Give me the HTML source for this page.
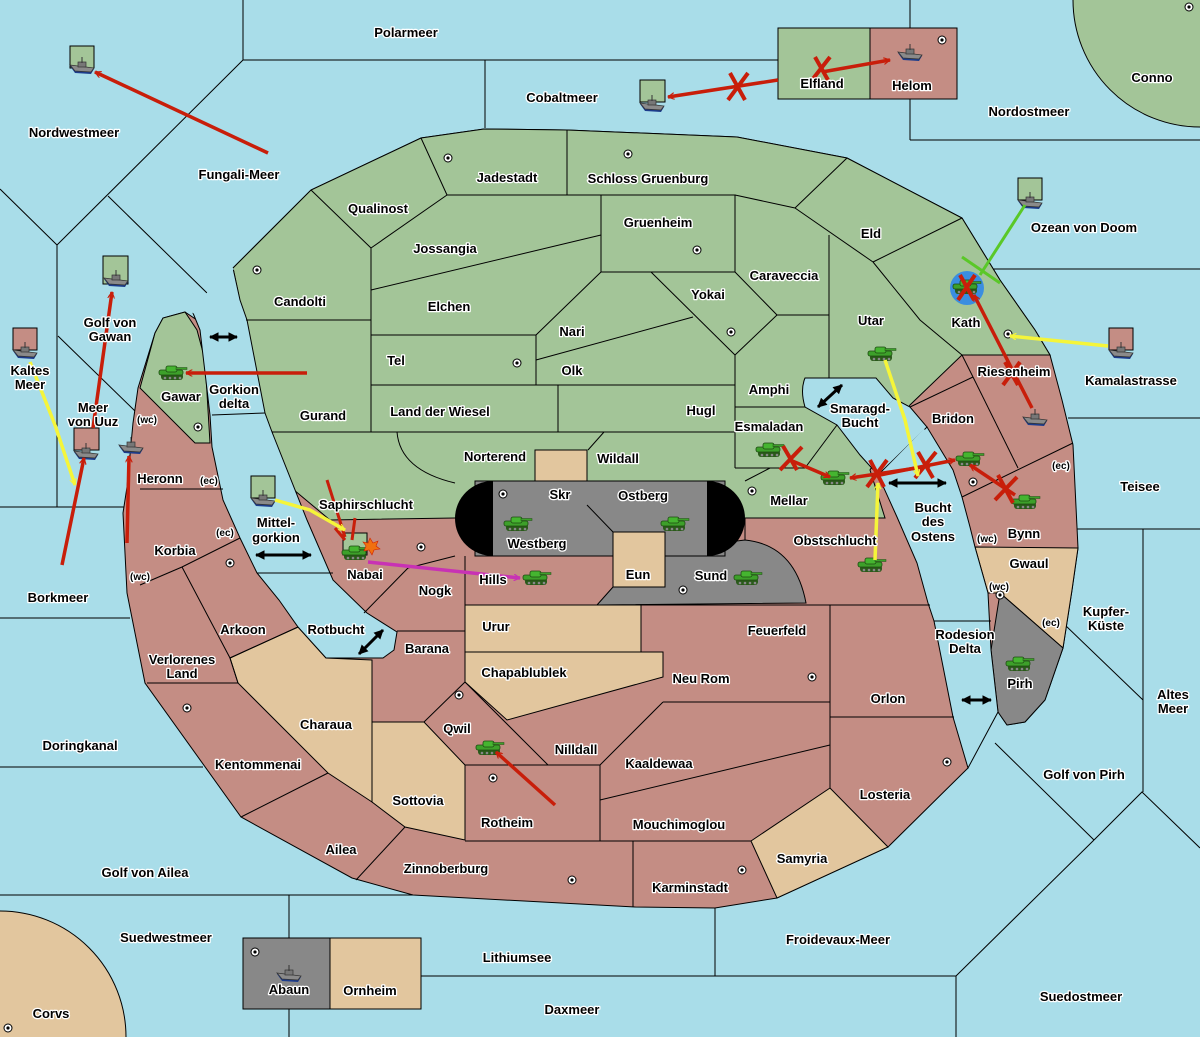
<!DOCTYPE html>
<html><head><meta charset="utf-8"><style>
html,body{margin:0;padding:0;background:#a9dde9;width:1200px;height:1037px;overflow:hidden}
svg{display:block;overflow:hidden;position:absolute;left:0;top:0}
text{font-family:"Liberation Sans","DejaVu Sans",sans-serif;font-weight:bold;font-size:13px;fill:#000;stroke:#fff;stroke-width:2.6px;paint-order:stroke;text-anchor:middle;stroke-linejoin:round}
.b{stroke:#000;stroke-width:1;fill:none}
</style></head><body>
<svg width="1200" height="1037" viewBox="0 0 1200 1037" xmlns="http://www.w3.org/2000/svg">
<defs>
<symbol id="tank" viewBox="0 0 30 18"><rect x="3" y="9" width="22" height="7" rx="3" fill="#2a5a1a"/><rect x="1" y="6" width="24" height="5" rx="2" fill="#3da02a" stroke="#1e4a12" stroke-width="0.8"/><rect x="8" y="2" width="11" height="6" rx="2" fill="#45b530" stroke="#1e4a12" stroke-width="0.8"/><rect x="18" y="3.5" width="11" height="2" fill="#3da02a" stroke="#1e4a12" stroke-width="0.5"/><circle cx="7" cy="14" r="1.3" fill="#888"/><circle cx="12" cy="14" r="1.3" fill="#888"/><circle cx="17" cy="14" r="1.3" fill="#888"/><circle cx="22" cy="14" r="1.3" fill="#888"/></symbol>
<symbol id="ship" viewBox="0 0 26 18"><path d="M1,9 L25,12 L22,17 L6,16 Z" fill="#1c3c8c"/><path d="M1,8 L25,11 L22,15 L6,14 Z" fill="#8a8a8a" stroke="#333" stroke-width="0.8"/><rect x="9" y="5" width="8" height="5" fill="#777" stroke="#333" stroke-width="0.7"/><line x1="13" y1="0" x2="13" y2="6" stroke="#333" stroke-width="1"/></symbol>
<symbol id="city" viewBox="0 0 10 10"><circle cx="5" cy="5" r="4" fill="#fff" stroke="#000" stroke-width="1"/><circle cx="5" cy="5" r="1.6" fill="#000"/></symbol>
<marker id="ar" viewBox="0 0 12 12" refX="11" refY="6" markerWidth="7" markerHeight="7" orient="auto" markerUnits="userSpaceOnUse"><path d="M0,0 L11,6 L0,12" fill="none" stroke="#c81e0a" stroke-width="2"/></marker>
<marker id="ay" viewBox="0 0 12 12" refX="11" refY="6" markerWidth="7" markerHeight="7" orient="auto" markerUnits="userSpaceOnUse"><path d="M0,0 L11,6 L0,12" fill="none" stroke="#f5f53a" stroke-width="2"/></marker>
<marker id="am" viewBox="0 0 12 12" refX="11" refY="6" markerWidth="7" markerHeight="7" orient="auto" markerUnits="userSpaceOnUse"><path d="M0,0 L11,6 L0,12" fill="none" stroke="#c832b4" stroke-width="2"/></marker>
<marker id="ab" viewBox="0 0 10 10" refX="9" refY="5" markerWidth="3.2" markerHeight="3.2" orient="auto-start-reverse"><path d="M0,0 L10,5 L0,10 Z" fill="#000"/></marker>
</defs>
<rect width="1200" height="1037" fill="#a9dde9"/>
<g class="b">
<polyline points="243,0 243,60 778,60"/><line x1="485" y1="60" x2="485" y2="128"/>
<line x1="243" y1="60" x2="57" y2="245"/><line x1="0" y1="189" x2="57" y2="245"/>
<line x1="57" y1="245" x2="57" y2="507"/><line x1="0" y1="507" x2="124" y2="507"/>
<line x1="108" y1="196" x2="207" y2="293"/><line x1="58" y1="336" x2="135" y2="411"/>
<line x1="910" y1="0" x2="910" y2="140"/><line x1="910" y1="140" x2="1200" y2="140"/>
<line x1="993" y1="269" x2="1200" y2="269"/><line x1="1068" y1="418" x2="1200" y2="418"/>
<line x1="1077" y1="529" x2="1200" y2="529"/><line x1="1143" y1="529" x2="1143" y2="792"/>
<line x1="1065" y1="625" x2="1143" y2="700"/>
<line x1="0" y1="618" x2="130" y2="618"/><line x1="0" y1="767" x2="203" y2="767"/>
<line x1="0" y1="895" x2="417" y2="895"/><line x1="289" y1="895" x2="289" y2="1037"/>
<line x1="421" y1="976" x2="956" y2="976"/><line x1="715" y1="908" x2="715" y2="976"/>
<line x1="956" y1="976" x2="956" y2="1037"/><line x1="956" y1="976" x2="1094" y2="840"/>
<polyline points="1094,840 1142,792 1200,848"/><line x1="1094" y1="840" x2="995" y2="743"/>
</g>
<circle cx="1200" cy="0" r="127" fill="#a3c598" stroke="#000"/>
<circle cx="0" cy="1037" r="126" fill="#e2c69e" stroke="#000"/>
<path d="M233,268 L311,190 L421,138 L484,129 L567,130 L737,137 L847,158 L962,218 L1000,280 L1035,330 L1050,355 L1062,400 L1073,445 L1078,548 L1072,590 L1063,648 L1045,700 L1025,722 L1007,725 L998,712 L991,650 L968,768 L888,847 L777,898 L715,908 L635,907 L413,895 L352,878 L241,817 L145,683 L127,593 L123,513 L127,487 L133,423 L138,388 L155,333 L163,318 L185,312 L197,320 L233,268 Z" fill="#c48d84" stroke="#000"/>
<path d="M233,268 L311,190 L421,138 L484,129 L567,130 L737,137 L847,158 L962,218 L1000,280 L1035,330 L1050,355 L962,355 L910,405 L870,470 L885,518 L745,518 L455,518 L330,520 L288,485 L272,432 L264,415 Z" fill="#a3c598" stroke="#000"/>
<path d="M140,388 L155,333 L163,318 L185,312 L197,330 L205,360 L210,443 L195,443 Z" fill="#a3c598" stroke="#000"/>
<g fill="#e2c69e" stroke="#000">
<rect x="535" y="450" width="52" height="55"/>
<rect x="465" y="605" width="176" height="47"/>
<path d="M465,652 L663,652 L663,677 L507,720 L465,682 Z"/>
<path d="M230,658 L298,627 L326,658 L372,660 L372,802 L328,773 L238,683 Z"/>
<path d="M372,722 L424,722 L465,765 L465,840 L405,827 L372,802 Z"/>
<path d="M751,841 L830,788 L888,847 L777,898 Z"/>
<path d="M975,547 L1078,548 L1072,590 L1063,648 L1000,593 L988,593 Z"/>
<rect x="330" y="938" width="91" height="71"/>
</g>
<g fill="#888" stroke="#000">
<path d="M597,605 L613,587 L613,556 L745,540 Q795,545 806,603 Z"/>
<rect x="475" y="481" width="250" height="75"/>
<path d="M1000,593 L1063,648 L1045,700 L1025,722 L1007,725 L998,712 L991,650 Z"/>
<rect x="243" y="938" width="87" height="71"/>
</g>
<path d="M493,481 A38,37.5 0 0 0 493,556 Z" fill="#000"/>
<path d="M707,481 A38,37.5 0 0 1 707,556 Z" fill="#000"/>
<rect x="613" y="532" width="52" height="55" fill="#e2c69e" stroke="#000"/>
<rect x="778" y="28" width="92" height="71" fill="#a3c598" stroke="#000"/>
<rect x="870" y="28" width="87" height="71" fill="#c48d84" stroke="#000"/>
<path d="M193,313 L200,330 L210,415 L212,447 L223,500 L240,538 L257,573 L279,600 L298,627 L326,658 L383,658 L394,650 L397,632 L367,613 L333,580 L307,520 L272,432 L265,413 L247,320 L240,300 L233,268 L215,285 Z" fill="#a9dde9" stroke="#000"/>
<path d="M193,313 L215,285 L233,268" stroke="#a9dde9" stroke-width="3" fill="none"/>
<path d="M805,378 L876,378 L893,398 L910,407 L927,427 L900,470 L878,475 L860,455 L837,425 L805,407 Q800,390 805,378 Z" fill="#a9dde9" stroke="#000"/>
<polygon points="878,475 927,427 953,470 962,497 970,527 975,547 988,593 991,650 998,712 968,768 953,717 934,621 928,603 917,563 897,517" fill="#a9dde9" stroke="#000"/>
<line x1="880" y1="476" x2="925" y2="430" stroke="#a9dde9" stroke-width="3"/>
<line x1="934" y1="621" x2="991" y2="621" class="b"/>
<g class="b">
<line x1="212" y1="415" x2="265" y2="413"/><line x1="257" y1="573" x2="333" y2="573"/>
<line x1="311" y1="190" x2="371" y2="248"/><line x1="371" y1="248" x2="447" y2="195"/>
<line x1="421" y1="138" x2="447" y2="195"/><line x1="447" y1="195" x2="735" y2="195"/>
<line x1="567" y1="130" x2="567" y2="195"/><line x1="371" y1="248" x2="371" y2="432"/>
<line x1="246" y1="320" x2="371" y2="320"/><line x1="371" y1="290" x2="601" y2="235"/>
<rect x="601" y="195" width="134" height="77"/>
<line x1="371" y1="335" x2="536" y2="335"/><line x1="536" y1="335" x2="536" y2="385"/>
<line x1="536" y1="335" x2="601" y2="272"/><line x1="536" y1="360" x2="693" y2="317"/>
<line x1="651" y1="272" x2="735" y2="355"/><line x1="735" y1="272" x2="777" y2="315"/>
<line x1="777" y1="315" x2="735" y2="355"/><line x1="777" y1="315" x2="829" y2="315"/>
<line x1="735" y1="195" x2="795" y2="208"/><line x1="795" y1="208" x2="847" y2="158"/>
<line x1="795" y1="208" x2="873" y2="262"/><line x1="873" y1="262" x2="962" y2="218"/>
<line x1="829" y1="235" x2="829" y2="378"/><polyline points="873,262 920,320 962,355"/>
<line x1="371" y1="385" x2="735" y2="385"/><line x1="735" y1="355" x2="735" y2="468"/>
<line x1="558" y1="385" x2="558" y2="432"/><line x1="272" y1="432" x2="735" y2="432"/>
<line x1="735" y1="407" x2="805" y2="407"/><line x1="735" y1="468" x2="805" y2="468"/>
<line x1="837" y1="425" x2="805" y2="468"/><line x1="745" y1="481" x2="770" y2="468"/>
<path d="M397,432 Q400,470 455,483"/><line x1="604" y1="432" x2="588" y2="450"/>
<line x1="587" y1="505" x2="613" y2="532"/><line x1="745" y1="518" x2="745" y2="540"/>
<line x1="962" y1="355" x2="1050" y2="355"/><line x1="962" y1="355" x2="973" y2="377"/>
<line x1="973" y1="377" x2="910" y2="407"/><line x1="973" y1="377" x2="1018" y2="468"/>
<line x1="962" y1="497" x2="1073" y2="443"/>
<line x1="140" y1="489" x2="223" y2="489"/><line x1="140" y1="585" x2="182" y2="567"/>
<line x1="182" y1="567" x2="240" y2="538"/><polyline points="182,567 230,658 238,683"/>
<line x1="147" y1="683" x2="238" y2="683"/><line x1="230" y1="658" x2="298" y2="627"/>
<line x1="328" y1="773" x2="241" y2="817"/><line x1="356" y1="880" x2="405" y2="827"/>
<line x1="397" y1="631" x2="465" y2="631"/><line x1="465" y1="556" x2="465" y2="682"/>
<line x1="465" y1="682" x2="548" y2="765"/><line x1="424" y1="722" x2="465" y2="682"/>
<line x1="465" y1="765" x2="600" y2="765"/><line x1="600" y1="765" x2="600" y2="841"/>
<line x1="465" y1="841" x2="751" y2="841"/><line x1="633" y1="841" x2="633" y2="907"/>
<line x1="600" y1="800" x2="830" y2="745"/><line x1="600" y1="765" x2="663" y2="702"/>
<line x1="663" y1="702" x2="830" y2="702"/><line x1="641" y1="605" x2="930" y2="605"/>
<line x1="830" y1="605" x2="830" y2="788"/><line x1="830" y1="717" x2="954" y2="717"/>
<line x1="364" y1="613" x2="408" y2="568"/><line x1="408" y1="568" x2="455" y2="556"/>
</g>
<g>
<use href="#city" x="937" y="35" width="10" height="10"/><use href="#city" x="443" y="153" width="10" height="10"/>
<use href="#city" x="623" y="149" width="10" height="10"/><use href="#city" x="252" y="265" width="10" height="10"/>
<use href="#city" x="692" y="245" width="10" height="10"/><use href="#city" x="726" y="327" width="10" height="10"/>
<use href="#city" x="512" y="358" width="10" height="10"/><use href="#city" x="1003" y="329" width="10" height="10"/>
<use href="#city" x="193" y="422" width="10" height="10"/><use href="#city" x="498" y="489" width="10" height="10"/>
<use href="#city" x="747" y="486" width="10" height="10"/><use href="#city" x="968" y="477" width="10" height="10"/>
<use href="#city" x="225" y="558" width="10" height="10"/><use href="#city" x="416" y="542" width="10" height="10"/>
<use href="#city" x="678" y="585" width="10" height="10"/><use href="#city" x="807" y="672" width="10" height="10"/>
<use href="#city" x="454" y="690" width="10" height="10"/><use href="#city" x="488" y="773" width="10" height="10"/>
<use href="#city" x="182" y="703" width="10" height="10"/><use href="#city" x="942" y="757" width="10" height="10"/>
<use href="#city" x="567" y="875" width="10" height="10"/><use href="#city" x="737" y="865" width="10" height="10"/>
<use href="#city" x="250" y="947" width="10" height="10"/><use href="#city" x="3" y="1023" width="10" height="10"/>
<use href="#city" x="1184" y="2" width="10" height="10"/><use href="#city" x="995" y="590" width="10" height="10"/>
</g>
<g stroke="#000">
<rect x="70" y="46" width="24" height="22" fill="#a3c598"/><rect x="640" y="80" width="25" height="22" fill="#a3c598"/>
<rect x="103" y="256" width="25" height="28" fill="#a3c598"/><rect x="13" y="328" width="24" height="22" fill="#c48d84"/>
<rect x="74" y="428" width="25" height="22" fill="#c48d84"/><rect x="251" y="476" width="24" height="22" fill="#a3c598"/>
<rect x="1018" y="178" width="24" height="22" fill="#a3c598"/><rect x="1109" y="328" width="24" height="22" fill="#c48d84"/>
<rect x="343" y="533" width="24" height="22" fill="#a3c598"/>
</g>
<circle cx="967" cy="288" r="17" fill="#3a8ee0"/>
<g>
<use href="#ship" x="69" y="57" width="26" height="18"/><use href="#ship" x="639" y="95" width="26" height="18"/>
<use href="#ship" x="897" y="44" width="26" height="18"/><use href="#ship" x="103" y="270" width="26" height="18"/>
<use href="#ship" x="12" y="342" width="26" height="18"/><use href="#ship" x="1017" y="192" width="26" height="18"/>
<use href="#ship" x="1108" y="342" width="26" height="18"/><use href="#ship" x="73" y="443" width="26" height="18"/>
<use href="#ship" x="118" y="437" width="26" height="18"/><use href="#ship" x="250" y="490" width="26" height="18"/>
<use href="#ship" x="1022" y="409" width="26" height="18"/><use href="#ship" x="276" y="965" width="26" height="18"/>
</g>
<g>
<use href="#tank" x="158" y="364" width="30" height="18"/><use href="#tank" x="867" y="345" width="30" height="18"/>
<use href="#tank" x="952" y="278" width="30" height="18"/><use href="#tank" x="503" y="515" width="30" height="18"/>
<use href="#tank" x="660" y="515" width="30" height="18"/><use href="#tank" x="755" y="441" width="30" height="18"/>
<use href="#tank" x="820" y="469" width="30" height="18"/><use href="#tank" x="955" y="450" width="30" height="18"/>
<use href="#tank" x="1011" y="493" width="30" height="18"/><use href="#tank" x="341" y="544" width="30" height="18"/>
<use href="#tank" x="522" y="569" width="30" height="18"/><use href="#tank" x="733" y="569" width="30" height="18"/>
<use href="#tank" x="857" y="556" width="30" height="18"/><use href="#tank" x="475" y="739" width="30" height="18"/>
<use href="#tank" x="1005" y="655" width="30" height="18"/>
</g>
<polygon points="370,538 373,543 378,541 376,546 380,549 374,550 372,555 369,550 364,551 366,546 363,542 368,543" fill="#f07010" stroke="#d02000" stroke-width="0.6"/>
<g stroke="#c81e0a" stroke-width="3.5" fill="none" marker-end="url(#ar)">
<line x1="268" y1="153" x2="95" y2="72"/>
<line x1="778" y1="80" x2="668" y2="97"/>
<line x1="822" y1="72" x2="890" y2="60"/>
<line x1="93" y1="428" x2="112" y2="292"/>
<line x1="62" y1="565" x2="84" y2="458"/>
<line x1="127" y1="543" x2="129" y2="456"/>
<line x1="307" y1="373" x2="186" y2="373"/>
<line x1="555" y1="805" x2="496" y2="752"/>
<line x1="1032" y1="408" x2="974" y2="295"/>
<line x1="790" y1="460" x2="830" y2="477"/>
<line x1="930" y1="466" x2="850" y2="478"/>
<line x1="880" y1="475" x2="955" y2="460"/>
<line x1="1015" y1="495" x2="970" y2="465"/>
</g>
<g stroke="#c81e0a" stroke-width="3" fill="none">
<line x1="327" y1="480" x2="345" y2="537"/><line x1="355" y1="518" x2="352" y2="540"/>
<line x1="335" y1="528" x2="345" y2="540"/>
</g>
<g stroke="#c81e0a" stroke-width="4">
<line x1="730" y1="73" x2="745" y2="100"/><line x1="748" y1="73" x2="728" y2="100"/>
<line x1="815" y1="57" x2="828" y2="80"/><line x1="830" y1="57" x2="812" y2="80"/>
<line x1="1005" y1="362" x2="1018" y2="385"/><line x1="1020" y1="362" x2="1003" y2="385"/>
<line x1="783" y1="446" x2="797" y2="470"/><line x1="802" y1="447" x2="780" y2="470"/>
<line x1="870" y1="460" x2="884" y2="487"/><line x1="887" y1="460" x2="867" y2="487"/>
<line x1="918" y1="452" x2="933" y2="478"/><line x1="936" y1="452" x2="915" y2="478"/>
<line x1="998" y1="475" x2="1013" y2="503"/><line x1="1017" y1="477" x2="995" y2="500"/>
<line x1="960" y1="275" x2="974" y2="300"/><line x1="975" y1="275" x2="958" y2="300"/>
</g>
<g stroke="#f5f53a" stroke-width="3.5" fill="none" marker-end="url(#ay)">
<line x1="1108" y1="346" x2="1010" y2="336"/>
<polyline points="885,360 905,420 918,476"/>
<polyline points="30,362 55,425 75,485"/>
<polyline points="275,500 310,510 345,530"/>
<line x1="875" y1="560" x2="878" y2="483"/>
</g>
<line x1="1025" y1="205" x2="980" y2="275" stroke="#5ac828" stroke-width="3"/>
<line x1="962" y1="257" x2="1000" y2="283" stroke="#5ac828" stroke-width="3"/>
<line x1="368" y1="562" x2="520" y2="578" stroke="#c832b4" stroke-width="3.5" marker-end="url(#am)"/>
<g stroke="#000" stroke-width="3" marker-start="url(#ab)" marker-end="url(#ab)">
<line x1="210" y1="337" x2="237" y2="337"/><line x1="256" y1="555" x2="311" y2="555"/>
<line x1="818" y1="407" x2="842" y2="385"/><line x1="359" y1="654" x2="383" y2="630"/>
<line x1="889" y1="483" x2="946" y2="483"/><line x1="962" y1="700" x2="991" y2="700"/>
</g>
<text x="406" y="37">Polarmeer</text><text x="562" y="102">Cobaltmeer</text>
<text x="822" y="88">Elfland</text><text x="912" y="90">Helom</text>
<text x="1152" y="82">Conno</text><text x="1029" y="116">Nordostmeer</text>
<text x="74" y="137">Nordwestmeer</text><text x="239" y="179">Fungali-Meer</text>
<text x="507" y="182">Jadestadt</text><text x="648" y="183">Schloss Gruenburg</text>
<text x="378" y="213">Qualinost</text><text x="658" y="227">Gruenheim</text>
<text x="871" y="238">Eld</text><text x="1084" y="232">Ozean von Doom</text>
<text x="445" y="253">Jossangia</text><text x="784" y="280">Caraveccia</text>
<text x="708" y="299">Yokai</text><text x="300" y="306">Candolti</text>
<text x="449" y="311">Elchen</text><text x="110" y="327">Golf von</text><text x="110" y="341">Gawan</text>
<text x="871" y="325">Utar</text><text x="966" y="327">Kath</text><text x="572" y="336">Nari</text>
<text x="30" y="375">Kaltes</text><text x="30" y="389">Meer</text>
<text x="396" y="365">Tel</text><text x="572" y="375">Olk</text>
<text x="1131" y="385">Kamalastrasse</text><text x="1014" y="376">Riesenheim</text>
<text x="181" y="401">Gawar</text><text x="234" y="394">Gorkion</text><text x="234" y="408">delta</text>
<text x="769" y="394">Amphi</text><text x="93" y="412">Meer</text><text x="93" y="426">von Uuz</text>
<text x="147" y="423" style="font-size:10px">(wc)</text>
<text x="323" y="420">Gurand</text><text x="440" y="416">Land der Wiesel</text>
<text x="701" y="415">Hugl</text><text x="953" y="423">Bridon</text>
<text x="860" y="413">Smaragd-</text><text x="860" y="427">Bucht</text>
<text x="769" y="431">Esmaladan</text><text x="160" y="483">Heronn</text>
<text x="209" y="484" style="font-size:10px">(ec)</text>
<text x="495" y="461">Norterend</text><text x="618" y="463">Wildall</text>
<text x="560" y="499">Skr</text><text x="1061" y="469" style="font-size:10px">(ec)</text>
<text x="1140" y="491">Teisee</text><text x="643" y="500">Ostberg</text>
<text x="789" y="505">Mellar</text><text x="366" y="509">Saphirschlucht</text>
<text x="276" y="527">Mittel-</text><text x="276" y="542">gorkion</text>
<text x="933" y="512">Bucht</text><text x="933" y="526">des</text><text x="933" y="541">Ostens</text>
<text x="225" y="536" style="font-size:10px">(ec)</text><text x="1024" y="538">Bynn</text>
<text x="987" y="542" style="font-size:10px">(wc)</text><text x="835" y="545">Obstschlucht</text>
<text x="537" y="548">Westberg</text><text x="175" y="555">Korbia</text>
<text x="1029" y="568">Gwaul</text><text x="365" y="579">Nabai</text>
<text x="140" y="580" style="font-size:10px">(wc)</text><text x="638" y="579">Eun</text>
<text x="711" y="580">Sund</text><text x="493" y="584">Hills</text>
<text x="999" y="590" style="font-size:10px">(wc)</text><text x="435" y="595">Nogk</text>
<text x="58" y="602">Borkmeer</text><text x="1106" y="616">Kupfer-</text><text x="1106" y="630">Küste</text>
<text x="1051" y="626" style="font-size:10px">(ec)</text><text x="496" y="631">Urur</text>
<text x="777" y="635">Feuerfeld</text><text x="243" y="634">Arkoon</text>
<text x="336" y="634">Rotbucht</text><text x="965" y="639">Rodesion</text><text x="965" y="653">Delta</text>
<text x="427" y="653">Barana</text><text x="182" y="664">Verlorenes</text><text x="182" y="678">Land</text>
<text x="524" y="677">Chapablublek</text><text x="701" y="683">Neu Rom</text>
<text x="1020" y="688">Pirh</text><text x="888" y="703">Orlon</text>
<text x="1173" y="699">Altes</text><text x="1173" y="713">Meer</text>
<text x="326" y="729">Charaua</text><text x="457" y="733">Qwil</text>
<text x="80" y="750">Doringkanal</text><text x="576" y="754">Nilldall</text>
<text x="258" y="769">Kentommenai</text><text x="659" y="768">Kaaldewaa</text>
<text x="1084" y="779">Golf von Pirh</text><text x="885" y="799">Losteria</text>
<text x="418" y="805">Sottovia</text><text x="507" y="827">Rotheim</text>
<text x="679" y="829">Mouchimoglou</text><text x="341" y="854">Ailea</text>
<text x="802" y="863">Samyria</text><text x="446" y="873">Zinnoberburg</text>
<text x="145" y="877">Golf von Ailea</text><text x="690" y="892">Karminstadt</text>
<text x="166" y="942">Suedwestmeer</text><text x="838" y="944">Froidevaux-Meer</text>
<text x="517" y="962">Lithiumsee</text><text x="289" y="994">Abaun</text>
<text x="370" y="995">Ornheim</text><text x="1081" y="1001">Suedostmeer</text>
<text x="572" y="1014">Daxmeer</text><text x="51" y="1018">Corvs</text>
</svg>
</body></html>
